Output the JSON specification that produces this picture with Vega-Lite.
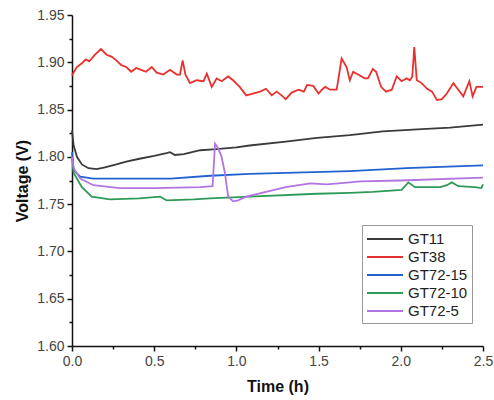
{
  "$schema": "https://vega.github.io/schema/vega-lite/v6.json",
  "autosize": "none",
  "width": 411,
  "height": 331,
  "padding": {"left": 72, "top": 15, "right": 11, "bottom": 54},
  "background": "white",
  "config": {
    "view": {"stroke": null},
    "axis": {
      "grid": false,
      "domainColor": "#111",
      "domainWidth": 1.5,
      "tickColor": "#111",
      "tickWidth": 1.5,
      "tickSize": 5,
      "labelFont": "Liberation Sans",
      "labelFontSize": 14,
      "labelColor": "#444",
      "titleFont": "Liberation Sans",
      "titleFontSize": 16,
      "titleFontWeight": "bold",
      "titleColor": "#111"
    },
    "legend": {
      "labelFont": "Liberation Sans",
      "labelFontSize": 15,
      "labelColor": "#222"
    }
  },
  "data": {
    "values": [
      {"s": "GT38", "t": 0, "v": 1.886},
      {"s": "GT38", "t": 0.012, "v": 1.89},
      {"s": "GT38", "t": 0.03, "v": 1.895},
      {"s": "GT38", "t": 0.06, "v": 1.899},
      {"s": "GT38", "t": 0.085, "v": 1.903},
      {"s": "GT38", "t": 0.105, "v": 1.901},
      {"s": "GT38", "t": 0.14, "v": 1.908},
      {"s": "GT38", "t": 0.176, "v": 1.914},
      {"s": "GT38", "t": 0.21, "v": 1.908},
      {"s": "GT38", "t": 0.24, "v": 1.906},
      {"s": "GT38", "t": 0.27, "v": 1.902},
      {"s": "GT38", "t": 0.3, "v": 1.897},
      {"s": "GT38", "t": 0.33, "v": 1.895},
      {"s": "GT38", "t": 0.36, "v": 1.89},
      {"s": "GT38", "t": 0.39, "v": 1.894},
      {"s": "GT38", "t": 0.42, "v": 1.892},
      {"s": "GT38", "t": 0.45, "v": 1.89},
      {"s": "GT38", "t": 0.485, "v": 1.895},
      {"s": "GT38", "t": 0.515, "v": 1.889},
      {"s": "GT38", "t": 0.555, "v": 1.887},
      {"s": "GT38", "t": 0.596, "v": 1.892},
      {"s": "GT38", "t": 0.637, "v": 1.887},
      {"s": "GT38", "t": 0.657, "v": 1.887},
      {"s": "GT38", "t": 0.673, "v": 1.902},
      {"s": "GT38", "t": 0.69, "v": 1.887},
      {"s": "GT38", "t": 0.718, "v": 1.878},
      {"s": "GT38", "t": 0.758, "v": 1.881},
      {"s": "GT38", "t": 0.8, "v": 1.88},
      {"s": "GT38", "t": 0.82, "v": 1.888},
      {"s": "GT38", "t": 0.85, "v": 1.874},
      {"s": "GT38", "t": 0.88, "v": 1.883},
      {"s": "GT38", "t": 0.91, "v": 1.88},
      {"s": "GT38", "t": 0.95, "v": 1.885},
      {"s": "GT38", "t": 0.98, "v": 1.881},
      {"s": "GT38", "t": 1.02, "v": 1.874},
      {"s": "GT38", "t": 1.06, "v": 1.865},
      {"s": "GT38", "t": 1.083, "v": 1.866},
      {"s": "GT38", "t": 1.144, "v": 1.869},
      {"s": "GT38", "t": 1.18, "v": 1.872},
      {"s": "GT38", "t": 1.215, "v": 1.865},
      {"s": "GT38", "t": 1.245, "v": 1.869},
      {"s": "GT38", "t": 1.275, "v": 1.865},
      {"s": "GT38", "t": 1.3, "v": 1.861},
      {"s": "GT38", "t": 1.336, "v": 1.868},
      {"s": "GT38", "t": 1.377, "v": 1.871},
      {"s": "GT38", "t": 1.41, "v": 1.869},
      {"s": "GT38", "t": 1.43, "v": 1.876},
      {"s": "GT38", "t": 1.467, "v": 1.875},
      {"s": "GT38", "t": 1.5, "v": 1.867},
      {"s": "GT38", "t": 1.52, "v": 1.871},
      {"s": "GT38", "t": 1.54, "v": 1.874},
      {"s": "GT38", "t": 1.57, "v": 1.871},
      {"s": "GT38", "t": 1.61, "v": 1.871},
      {"s": "GT38", "t": 1.64, "v": 1.904},
      {"s": "GT38", "t": 1.67, "v": 1.895},
      {"s": "GT38", "t": 1.69, "v": 1.881},
      {"s": "GT38", "t": 1.71, "v": 1.89},
      {"s": "GT38", "t": 1.74, "v": 1.887},
      {"s": "GT38", "t": 1.78, "v": 1.883},
      {"s": "GT38", "t": 1.8, "v": 1.883},
      {"s": "GT38", "t": 1.83, "v": 1.893},
      {"s": "GT38", "t": 1.85, "v": 1.89},
      {"s": "GT38", "t": 1.88, "v": 1.874},
      {"s": "GT38", "t": 1.91, "v": 1.869},
      {"s": "GT38", "t": 1.945, "v": 1.871},
      {"s": "GT38", "t": 1.975, "v": 1.885},
      {"s": "GT38", "t": 2.005, "v": 1.88},
      {"s": "GT38", "t": 2.035, "v": 1.883},
      {"s": "GT38", "t": 2.056, "v": 1.881},
      {"s": "GT38", "t": 2.07, "v": 1.885},
      {"s": "GT38", "t": 2.082, "v": 1.916},
      {"s": "GT38", "t": 2.097, "v": 1.881},
      {"s": "GT38", "t": 2.127, "v": 1.878},
      {"s": "GT38", "t": 2.16, "v": 1.872},
      {"s": "GT38", "t": 2.19, "v": 1.869},
      {"s": "GT38", "t": 2.22, "v": 1.86},
      {"s": "GT38", "t": 2.25, "v": 1.861},
      {"s": "GT38", "t": 2.28, "v": 1.867},
      {"s": "GT38", "t": 2.32, "v": 1.878},
      {"s": "GT38", "t": 2.35, "v": 1.871},
      {"s": "GT38", "t": 2.38, "v": 1.864},
      {"s": "GT38", "t": 2.417, "v": 1.88},
      {"s": "GT38", "t": 2.437, "v": 1.864},
      {"s": "GT38", "t": 2.46, "v": 1.874},
      {"s": "GT38", "t": 2.5, "v": 1.874},

      {"s": "GT11", "t": 0, "v": 1.828},
      {"s": "GT11", "t": 0.01, "v": 1.812},
      {"s": "GT11", "t": 0.03, "v": 1.8},
      {"s": "GT11", "t": 0.06, "v": 1.792},
      {"s": "GT11", "t": 0.1, "v": 1.788},
      {"s": "GT11", "t": 0.15, "v": 1.787},
      {"s": "GT11", "t": 0.2, "v": 1.789},
      {"s": "GT11", "t": 0.27, "v": 1.792},
      {"s": "GT11", "t": 0.33, "v": 1.795},
      {"s": "GT11", "t": 0.41, "v": 1.798},
      {"s": "GT11", "t": 0.5, "v": 1.801},
      {"s": "GT11", "t": 0.575, "v": 1.804},
      {"s": "GT11", "t": 0.596, "v": 1.805},
      {"s": "GT11", "t": 0.626, "v": 1.802},
      {"s": "GT11", "t": 0.68, "v": 1.803},
      {"s": "GT11", "t": 0.78, "v": 1.807},
      {"s": "GT11", "t": 0.86, "v": 1.808},
      {"s": "GT11", "t": 1.0, "v": 1.81},
      {"s": "GT11", "t": 1.08, "v": 1.812},
      {"s": "GT11", "t": 1.3, "v": 1.816},
      {"s": "GT11", "t": 1.49, "v": 1.82},
      {"s": "GT11", "t": 1.69, "v": 1.823},
      {"s": "GT11", "t": 1.89, "v": 1.827},
      {"s": "GT11", "t": 2.1, "v": 1.829},
      {"s": "GT11", "t": 2.3, "v": 1.831},
      {"s": "GT11", "t": 2.5, "v": 1.834},

      {"s": "GT72-15", "t": 0, "v": 1.805},
      {"s": "GT72-15", "t": 0.01, "v": 1.786},
      {"s": "GT72-15", "t": 0.05, "v": 1.779},
      {"s": "GT72-15", "t": 0.13, "v": 1.777},
      {"s": "GT72-15", "t": 0.6, "v": 1.777},
      {"s": "GT72-15", "t": 0.84, "v": 1.78},
      {"s": "GT72-15", "t": 1.08, "v": 1.782},
      {"s": "GT72-15", "t": 1.69, "v": 1.785},
      {"s": "GT72-15", "t": 2.035, "v": 1.788},
      {"s": "GT72-15", "t": 2.5, "v": 1.791},

      {"s": "GT72-10", "t": 0, "v": 1.8},
      {"s": "GT72-10", "t": 0.01, "v": 1.783},
      {"s": "GT72-10", "t": 0.06, "v": 1.768},
      {"s": "GT72-10", "t": 0.12, "v": 1.758},
      {"s": "GT72-10", "t": 0.23, "v": 1.755},
      {"s": "GT72-10", "t": 0.41, "v": 1.756},
      {"s": "GT72-10", "t": 0.535, "v": 1.758},
      {"s": "GT72-10", "t": 0.575, "v": 1.754},
      {"s": "GT72-10", "t": 0.74, "v": 1.755},
      {"s": "GT72-10", "t": 0.84, "v": 1.756},
      {"s": "GT72-10", "t": 1.08, "v": 1.758},
      {"s": "GT72-10", "t": 1.49, "v": 1.761},
      {"s": "GT72-10", "t": 1.69, "v": 1.762},
      {"s": "GT72-10", "t": 1.83, "v": 1.763},
      {"s": "GT72-10", "t": 2.005, "v": 1.765},
      {"s": "GT72-10", "t": 2.046, "v": 1.773},
      {"s": "GT72-10", "t": 2.086, "v": 1.768},
      {"s": "GT72-10", "t": 2.24, "v": 1.768},
      {"s": "GT72-10", "t": 2.28, "v": 1.77},
      {"s": "GT72-10", "t": 2.31, "v": 1.773},
      {"s": "GT72-10", "t": 2.35, "v": 1.769},
      {"s": "GT72-10", "t": 2.45, "v": 1.768},
      {"s": "GT72-10", "t": 2.49, "v": 1.767},
      {"s": "GT72-10", "t": 2.5, "v": 1.771},

      {"s": "GT72-5", "t": 0, "v": 1.8},
      {"s": "GT72-5", "t": 0.01, "v": 1.788},
      {"s": "GT72-5", "t": 0.05, "v": 1.777},
      {"s": "GT72-5", "t": 0.13, "v": 1.77},
      {"s": "GT72-5", "t": 0.29, "v": 1.767},
      {"s": "GT72-5", "t": 0.5, "v": 1.767},
      {"s": "GT72-5", "t": 0.78, "v": 1.768},
      {"s": "GT72-5", "t": 0.855, "v": 1.769},
      {"s": "GT72-5", "t": 0.87, "v": 1.814},
      {"s": "GT72-5", "t": 0.89, "v": 1.809},
      {"s": "GT72-5", "t": 0.91, "v": 1.8},
      {"s": "GT72-5", "t": 0.93, "v": 1.783},
      {"s": "GT72-5", "t": 0.95, "v": 1.758},
      {"s": "GT72-5", "t": 0.98, "v": 1.753},
      {"s": "GT72-5", "t": 1.01, "v": 1.754},
      {"s": "GT72-5", "t": 1.06, "v": 1.758},
      {"s": "GT72-5", "t": 1.18, "v": 1.763},
      {"s": "GT72-5", "t": 1.3, "v": 1.768},
      {"s": "GT72-5", "t": 1.45, "v": 1.772},
      {"s": "GT72-5", "t": 1.55, "v": 1.771},
      {"s": "GT72-5", "t": 1.69, "v": 1.773},
      {"s": "GT72-5", "t": 1.75, "v": 1.774},
      {"s": "GT72-5", "t": 2.0, "v": 1.775},
      {"s": "GT72-5", "t": 2.5, "v": 1.778}
    ]
  },
  "layer": [
    {
      "mark": {"type": "line", "strokeWidth": 1.8},
      "encoding": {
        "x": {
          "field": "t", "type": "quantitative",
          "scale": {"domain": [0, 2.5], "nice": false, "zero": false},
          "axis": {"title": "Time (h)", "orient": "bottom", "values": [0, 0.5, 1, 1.5, 2, 2.5], "format": ".1f", "labelFlush": false, "labelPadding": 3, "titlePadding": 10}
        },
        "y": {
          "field": "v", "type": "quantitative",
          "scale": {"domain": [1.6, 1.95], "nice": false, "zero": false},
          "axis": {"title": "Voltage (V)", "orient": "left", "values": [1.6, 1.65, 1.7, 1.75, 1.8, 1.85, 1.9, 1.95], "format": ".2f", "labelPadding": 3, "titlePadding": 6}
        },
        "color": {
          "field": "s", "type": "nominal",
          "scale": {
            "domain": ["GT11", "GT38", "GT72-15", "GT72-10", "GT72-5"],
            "range": ["#3a3a3a", "#e8302f", "#1f62d0", "#2e9a58", "#b274e0"]
          },
          "legend": {
            "title": null,
            "orient": "none",
            "legendX": 290,
            "legendY": 210,
            "symbolType": "M-1,0H3",
            "symbolSize": 324,
            "symbolStrokeWidth": 2,
            "symbolFillColor": "transparent",
            "strokeColor": "#999",
            "fillColor": "white",
            "padding": 4,
            "labelOffset": 22,
            "rowPadding": 0
          }
        }
      }
    },
    {
      "mark": {"type": "line", "opacity": 0},
      "encoding": {
        "x": {
          "field": "t", "type": "quantitative",
          "axis": {"title": null, "orient": "bottom", "values": [0.25, 0.75, 1.25, 1.75, 2.25], "labels": false, "domain": false, "tickSize": 3}
        },
        "y": {
          "field": "v", "type": "quantitative",
          "axis": {"title": null, "orient": "left", "values": [1.625, 1.675, 1.725, 1.775, 1.825, 1.875, 1.925], "labels": false, "domain": false, "tickSize": 3}
        },
        "detail": {"field": "s"}
      }
    }
  ],
  "resolve": {"axis": {"x": "independent", "y": "independent"}}
}
